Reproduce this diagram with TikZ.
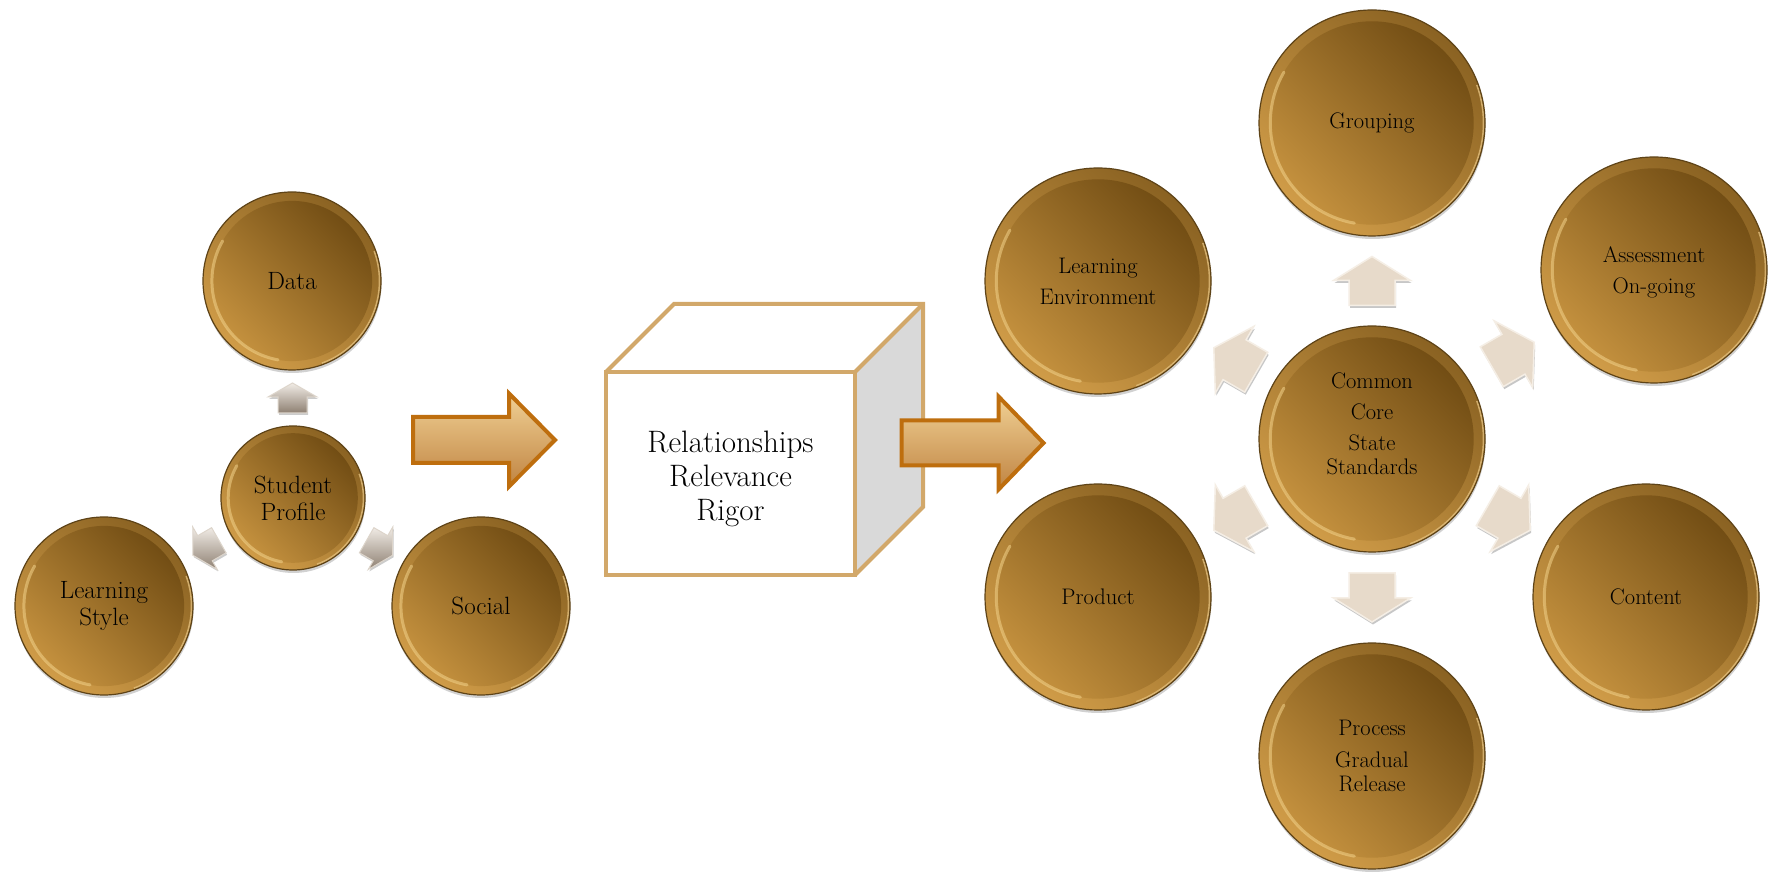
\documentclass[tikz,border=0pt]{standalone}
\usepackage{fontspec}
\usetikzlibrary{calc,shadows}

% bronze discs
\definecolor{discrim}{HTML}{5E4317}
\definecolor{discouttop}{HTML}{8A6222}
\definecolor{discoutbot}{HTML}{D09C48}
\definecolor{disctop}{HTML}{6E4A12}
\definecolor{discbot}{HTML}{C89440}
\definecolor{discglow}{HTML}{F2D28A}
\definecolor{discsheen}{HTML}{E2BE7C}
% cube
\definecolor{cubeedge}{HTML}{D2A86A}
\definecolor{cubeside}{HTML}{D9D9D9}
% large orange arrows
\definecolor{bigedge}{HTML}{BE6E0E}
\definecolor{bigtop}{HTML}{F0D094}
\definecolor{bigmid}{HTML}{DDB06C}
\definecolor{bigbot}{HTML}{C08442}
% small arrows
\definecolor{petal}{HTML}{E7DACA}
\definecolor{petaledge}{HTML}{F5EEE5}
\definecolor{silvertop}{HTML}{F1ECE6}
\definecolor{silverbot}{HTML}{8E8072}
\definecolor{silveredge}{HTML}{DDD5CB}

% block arrow pointing along +x, centred on the origin:
% #1 length, #2 shaft width, #3 head width, #4 head length
\newcommand{\blockarrowpath}[4]{({-#1/2},{-#2/2}) -- ({#1/2-#4},{-#2/2}) -- ({#1/2-#4},{-#3/2}) -- ({#1/2},0) -- ({#1/2-#4},{#3/2}) -- ({#1/2-#4},{#2/2}) -- ({-#1/2},{#2/2}) -- cycle}

\tikzset{
  disc/.style={circle, inner sep=0pt, outer sep=0pt, minimum size={2*#1},
    draw=discrim, line width=1.2pt,
    top color=discouttop, bottom color=discoutbot, shading angle=-40,
    drop shadow={shadow xshift=0.5pt, shadow yshift=-3pt, opacity=.18, fill=black},
    path picture={
      \shade[top color=disctop, bottom color=discbot, shading angle=-45]
        (path picture bounding box.center) circle ({#1*0.9});
      \draw[discglow, line width=3pt, line cap=round, opacity=.55]
        ([shift={(150:{#1*0.9})}]path picture bounding box.center)
        arc[start angle=150, end angle=260, radius={#1*0.9}];
      \draw[discsheen, line width=1.6pt, opacity=.8]
        ([shift={(-70:{#1-1.5})}]path picture bounding box.center)
        arc[start angle=-70, end angle=20, radius={#1-1.5}];
    }},
  ltext/.style={font=\fontsize{25}{27}\selectfont, align=center, text=black},
  rtext/.style={font=\fontsize{22.5}{24}\selectfont, align=center, text=black},
  cubeface/.style={rectangle, draw=cubeedge, fill=white, line width=4pt,
    minimum width=249pt, minimum height=203pt, inner sep=0pt, outer sep=0pt},
  cubeline/.style={draw=cubeedge, line width=4pt, line join=miter},
  bigarrow/.style={draw=bigedge, line width=4pt, line join=miter,
    top color=bigtop, middle color=bigmid, bottom color=bigbot},
  petalarrow/.style={fill=petal, draw=petaledge, line width=1.5pt,
    drop shadow={shadow xshift=1pt, shadow yshift=-2.5pt, opacity=.22, fill=black}},
  silverarrow/.style={top color=silvertop, bottom color=silverbot,
    draw=silveredge, line width=1pt,
    drop shadow={shadow xshift=1pt, shadow yshift=-2pt, opacity=.2, fill=black}},
}

\begin{document}
\begin{tikzpicture}[x=1pt, y=1pt]
\fill[white] (0,0) rectangle (1768,872);
\useasboundingbox (0,0) rectangle (1768,872);

% ---------- student profile cluster ----------
\node[disc=89] (data) at (292,591) {};
\node[disc=72] (sp)   at (293,374) {};
\node[disc=89] (ls)   at (104,266) {};
\node[disc=89] (soc)  at (481,266) {};
\node[ltext] (data-t) at (data.center) {Data};
\node[ltext] (sp-t)   at (sp.center)   {Student\\Profile};
\node[ltext] (ls-t)   at (ls.center)   {Learning\\Style};
\node[ltext] (soc-t)  at (soc.center)  {Social};

\coordinate (sp-up)  at ($(sp.90)!0.5!(data.270)$);
\coordinate (sp-ls)  at ($(sp.210)!0.5!(ls.30)$);
\coordinate (sp-soc) at ($(sp.330)!0.5!(soc.150)$);
\begin{scope}[shift={(sp-up)}, rotate=90]
  \path[silverarrow] \blockarrowpath{30}{29}{49}{14};
\end{scope}
\begin{scope}[shift={(sp-ls)}, rotate=210]
  \path[silverarrow] \blockarrowpath{30}{29}{49}{14};
\end{scope}
\begin{scope}[shift={(sp-soc)}, rotate=330]
  \path[silverarrow] \blockarrowpath{30}{29}{49}{14};
\end{scope}

% ---------- arrow into the cube ----------
\coordinate (big1) at (484,432);
\begin{scope}[shift={(big1)}]
  \path[bigarrow] \blockarrowpath{142}{46}{93}{46};
\end{scope}

% ---------- cube ----------
\node[cubeface] (cube) at (730.5,398.5) {};
\fill[cubeside] (cube.north east) -- ++(68,68) -- ++(0,-203) -- (cube.south east) -- cycle;
\draw[cubeline] (cube.north west) -- ++(68,68) -- ++(249,0) -- ++(0,-203) -- (cube.south east);
\draw[cubeline] (cube.north east) -- ++(68,68);
\draw[cubeline] (cube.north west) rectangle (cube.south east);
\node[font=\fontsize{31}{34}\selectfont, align=center] (cube-t)
  at ([yshift=-5]cube.center) {Relationships\\Relevance\\Rigor};

% ---------- arrow out of the cube ----------
\coordinate (big2) at (972.5,429);
\begin{scope}[shift={(big2)}]
  \path[bigarrow] \blockarrowpath{142}{45}{93}{45};
\end{scope}

% ---------- common core cluster ----------
\node[disc=113] (grp)  at (1372,749) {};
\node[disc=113] (le)   at (1098,591) {};
\node[disc=113] (asmt) at (1654,602) {};
\node[disc=113] (ccss) at (1372,433) {};
\node[disc=113] (prod) at (1098,275) {};
\node[disc=113] (cont) at (1646,275) {};
\node[disc=113] (proc) at (1372,116) {};

\node[rtext] (grp-t)  at (grp.center)  {Grouping};
\node[rtext] (le-t)   at (le.center)   {Learning\\[7pt]Environment};
\node[rtext] (asmt-t) at ([yshift=-2]asmt.center) {Assessment\\[7pt]On-going};
\node[rtext] (ccss-t) at ([yshift=15]ccss.center) {Common\\[7pt]Core\\[7pt]State\\Standards};
\node[rtext] (prod-t) at (prod.center) {Product};
\node[rtext] (cont-t) at (cont.center) {Content};
\node[rtext] (proc-t) at (proc.center) {Process\\[8pt]Gradual\\Release};

\coordinate (cc-grp)  at ($(ccss.90)!0.5!(grp.270)$);
\coordinate (cc-le)   at ($(ccss.150)!0.5!(le.-30)$);
\coordinate (cc-asmt) at ($(ccss.30)!0.5!(asmt.210)$);
\coordinate (cc-prod) at ($(ccss.210)!0.5!(prod.30)$);
\coordinate (cc-cont) at ($(ccss.-30)!0.5!(cont.150)$);
\coordinate (cc-proc) at ($(ccss.270)!0.5!(proc.90)$);
\foreach \c/\a in {cc-grp/90, cc-le/150, cc-asmt/30, cc-prod/210, cc-cont/330, cc-proc/270}{
  \begin{scope}[shift={(\c)}, rotate=\a]
    \path[petalarrow] \blockarrowpath{49}{46}{77}{24};
  \end{scope}
}
\end{tikzpicture}
\end{document}
